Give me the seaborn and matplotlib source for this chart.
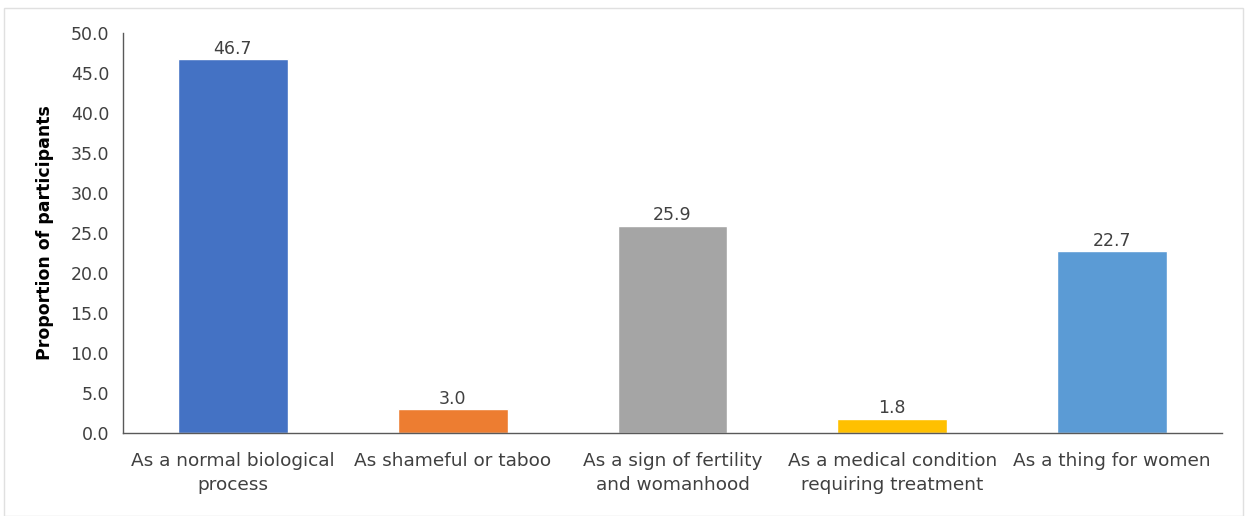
import matplotlib
matplotlib.use("Agg")
import matplotlib.pyplot as plt
import seaborn as sns
import pandas as pd

categories = ["As a normal biological\nprocess", "As shameful or taboo",
              "As a sign of fertility\nand womanhood", "As a medical condition\nrequiring treatment",
              "As a thing for women"]
values = [46.7, 3.0, 25.9, 1.8, 22.7]
colors = ["#4472C4", "#ED7D31", "#A5A5A5", "#FFC000", "#5B9BD5"]
yticks = [0, 5, 10, 15, 20, 25, 30, 35, 40, 45, 50]

sns.set_theme(style="white")
plt.rcParams['font.family'] = ['DejaVu Sans']

FS = 12.5
df = pd.DataFrame({"cat": categories, "val": values})
fig = plt.figure(figsize=(12.47, 5.16), dpi=100)
ax = fig.add_axes([123/1247, 83/516, (1222-123)/1247, 400/516])
sns.barplot(data=df, x="cat", y="val", hue="cat", palette=colors, legend=False,
            width=0.5, ax=ax, saturation=1)
ax.set_ylim(0, 50)
ax.set_xlim(-0.5, 4.5)
ax.set_yticks(yticks)
ax.set_yticklabels([f"{v:.1f}" for v in yticks], fontsize=FS, color="#404040")
ax.tick_params(axis='x', labelsize=13.3, colors="#404040", length=0, pad=14)
for lab in ax.get_xticklabels():
    lab.set_linespacing(1.4)
ax.tick_params(axis='y', length=0, pad=10)
ax.set_xlabel("")
ax.set_ylabel("Proportion of participants", fontsize=FS, fontweight="bold", color="black", labelpad=12)
for s in ["top", "right"]:
    ax.spines[s].set_visible(False)
for s in ["left", "bottom"]:
    ax.spines[s].set_color("#595959")
    ax.spines[s].set_linewidth(1.0)
for c in ax.containers:
    ax.bar_label(c, labels=[f"{v:.1f}" for v in c.datavalues], fontsize=FS, color="#404040", padding=1)
fig.add_artist(plt.Rectangle((4/1247, 0), 1 - 8/1247, 1 - 8/516, transform=fig.transFigure,
                             fill=False, edgecolor="#E0E0E0", linewidth=1))
fig.savefig("out.png", dpi=100)
